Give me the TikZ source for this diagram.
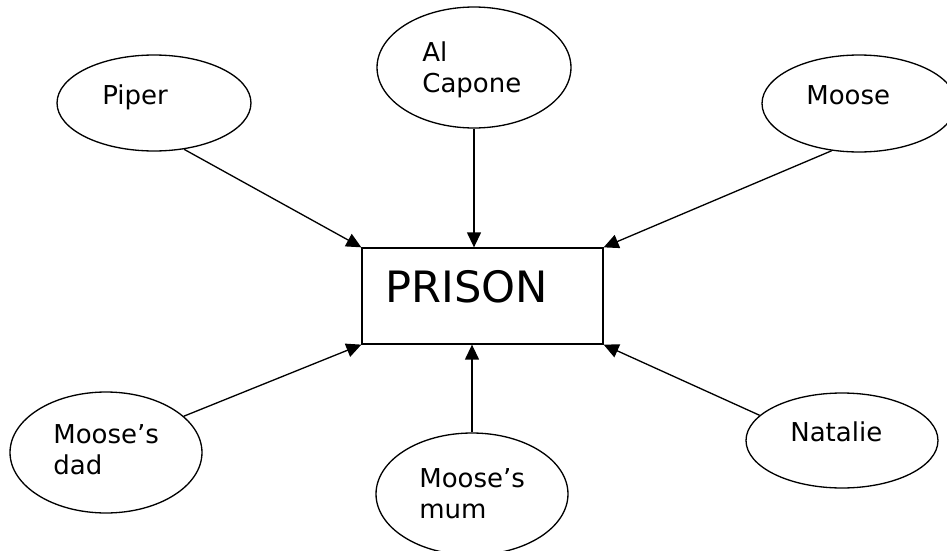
\documentclass[tikz,border=0pt]{standalone}
\usepackage{fontspec}
\setmainfont{DejaVu Sans}
\usetikzlibrary{arrows.meta,shapes.geometric,calc}
\tikzset{
    bubble/.style = {draw, ellipse, line width=0.75pt, inner sep=0pt},
    block/.style = {draw, rectangle, line width=0.75pt, inner sep=0pt,
        minimum width=4.82cm, minimum height=1.92cm},
    who/.style = {inner sep=0pt, align=left,
        font=\fontsize{14.8}{18}\selectfont},
    arrow/.style = {draw, line width=0.75pt, -{Triangle[length=0.3cm,width=0.28cm]}}
}

\begin{document}
\begin{tikzpicture}[x=0.02cm,y=-0.02cm]
  \useasboundingbox (0,0) rectangle (947,551);
  % centre box
  \node[block] (prison) at (482.5,296) {};
  \node[anchor=base west, inner sep=0pt, font=\fontsize{24.6}{29}\selectfont] (prisontxt) at (385,302) {PRISON};
  % the people round it
  \node[bubble, minimum width=3.88cm, minimum height=1.92cm] (piper) at (154,103) {};
  \node[bubble, minimum width=3.88cm, minimum height=2.42cm] (capone) at (474,67.5) {};
  \node[bubble, minimum width=3.88cm, minimum height=1.94cm] (moose) at (859,103.5) {};
  \node[bubble, minimum width=3.84cm, minimum height=2.42cm] (dad) at (106,452.5) {};
  \node[bubble, minimum width=3.84cm, minimum height=2.44cm] (mum) at (472,494) {};
  \node[bubble, minimum width=3.84cm, minimum height=1.90cm] (natalie) at (842,440.5) {};
  \node[who, anchor=base west] (pipertxt) at (102,104) {Piper};
  \node[who, anchor=north west] (caponetxt) at (422,41) {Al\\Capone};
  \node[who, anchor=base west] (moosetxt) at (806,104) {Moose};
  \node[who, anchor=north west] (dadtxt) at (53,424) {Moose’s\\dad};
  \node[who, anchor=north west] (mumtxt) at (419,468) {Moose’s\\mum};
  \node[who, anchor=base west] (natalietxt) at (790,441) {Natalie};
  % arrows into the box
  \coordinate (capone-in) at (capone.south |- prison.north);
  \coordinate (mum-in) at (mum.north |- prison.south);
  \foreach \from/\to in {piper.-57/prison.north west, capone.south/capone-in,
      moose.-120/prison.north east, dad.25/prison.south west,
      mum.north/mum-in, natalie.163/prison.south east}{
    \draw[arrow] (\from) -- (\to);
  };
\end{tikzpicture}
\end{document}
